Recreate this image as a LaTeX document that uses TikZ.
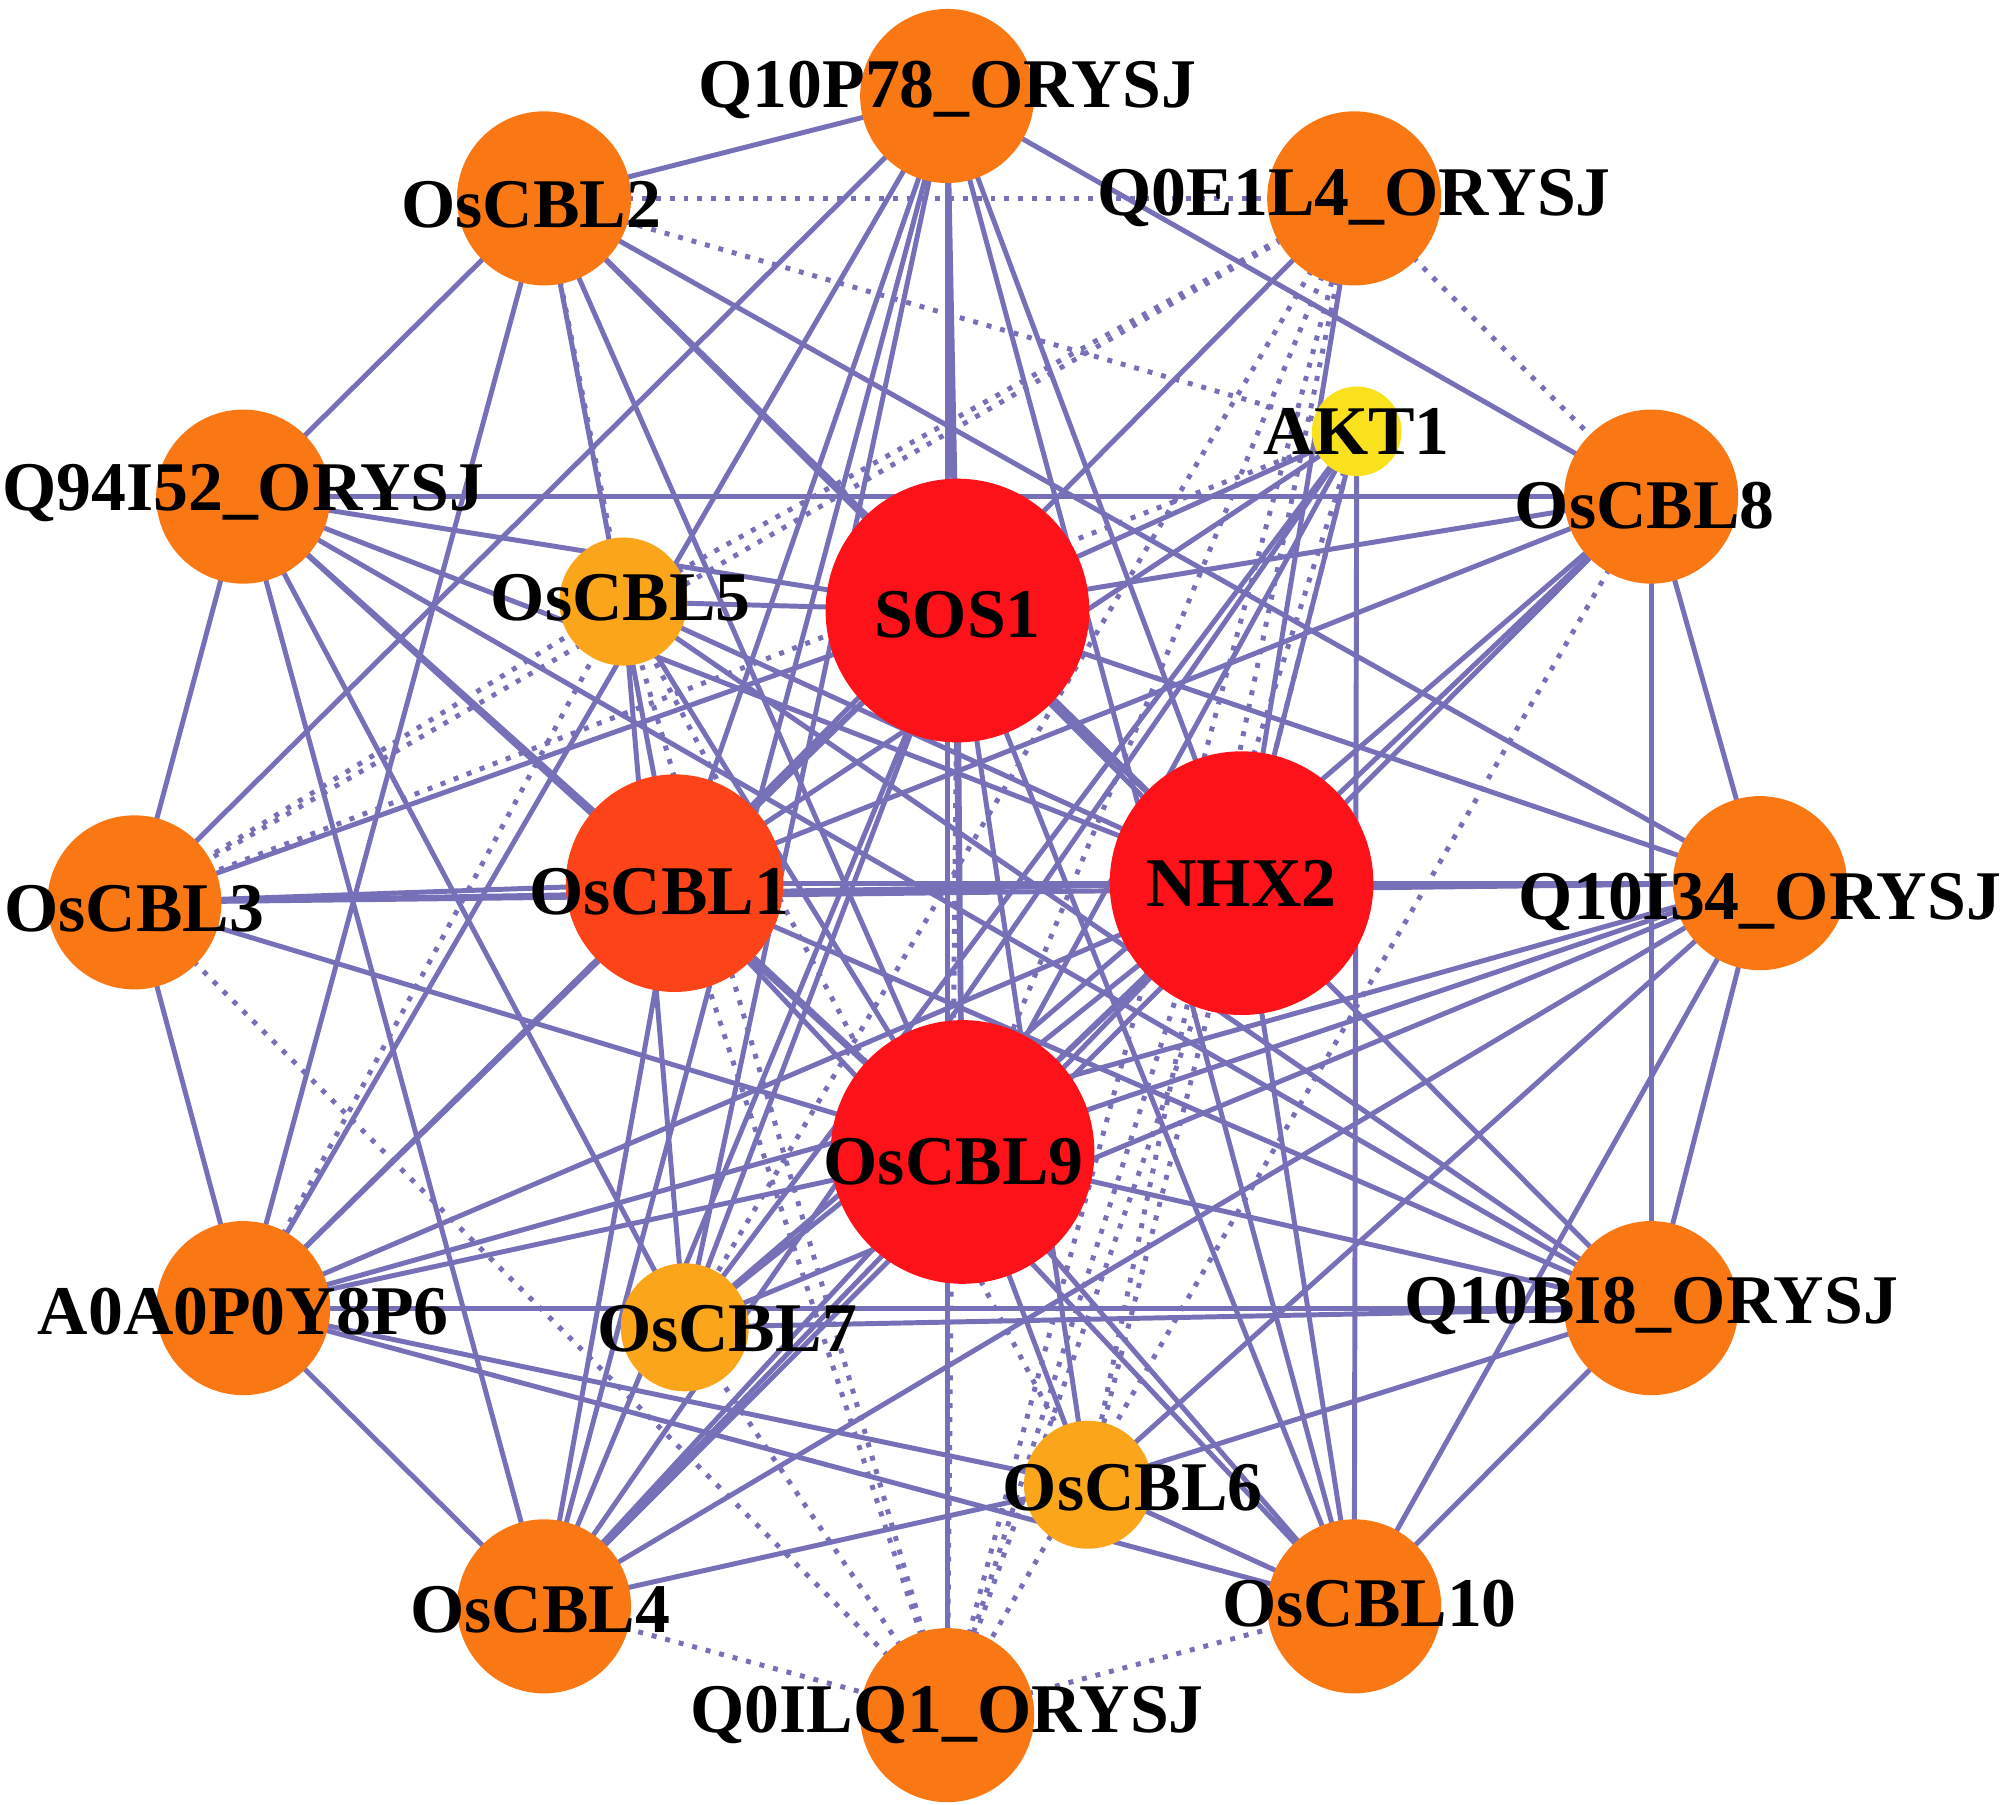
\documentclass[tikz,border=0pt]{standalone}
\usepackage{fontspec}
\setmainfont{Liberation Serif}
\definecolor{edgec}{RGB}{117,112,184}
\definecolor{hubred}{RGB}{252,18,24}
\definecolor{cblone}{RGB}{252,68,24}
\definecolor{ringor}{RGB}{250,120,20}
\definecolor{lightor}{RGB}{250,165,26}
\definecolor{akty}{RGB}{250,225,30}
\tikzset{
  prot/.style={circle, inner sep=0pt, minimum size=#1},
  lab/.style={font=\fontsize{15.5}{15.5}\selectfont\bfseries, inner sep=0pt},
  link/.style={draw=edgec, line width=1.1pt},
  dlink/.style={draw=edgec, line width=1.1pt, dotted},
}
\begin{document}
\begin{tikzpicture}[x=0.01cm,y=-0.01cm]
\useasboundingbox (0,0) rectangle (1568,1410);
% node positions
\foreach \n/\x/\y in {Q10P78/740/75, CBL2/425/155, Q0E1L4/1058/155, AKT1/1060/337,
  CBL8/1290/388, Q94I52/190/388, CBL5/487/470, SOS1/748/477, CBL1/527/690,
  NHX2/970/690, CBL3/105/705, Q10I34/1375/690, CBL9/752/900, A0A/190/1022,
  CBL7/535/1037, Q10BI8/1290/1022, CBL6/850/1160, CBL4/425/1255,
  CBL10/1058/1255, Q0ILQ1/740/1340}
  \coordinate (\n) at (\x,\y);
% solid edges
\foreach \a/\b in {Q10P78/CBL2, CBL2/Q94I52, Q94I52/CBL3, CBL3/A0A, A0A/CBL4,
  CBL10/Q10BI8, Q10BI8/Q10I34, Q10I34/CBL8, Q10P78/CBL8, CBL8/Q10BI8,
  Q10P78/CBL3, Q10P78/A0A, Q10P78/CBL4, Q10P78/CBL7, Q10P78/CBL1, Q10P78/CBL9,
  Q10P78/SOS1, Q10P78/NHX2, Q10P78/CBL10, Q10P78/Q0ILQ1,
  CBL2/SOS1, CBL2/NHX2, CBL2/CBL9, CBL2/Q10I34, CBL2/CBL1, CBL2/A0A,
  Q94I52/SOS1, Q94I52/CBL8, Q94I52/CBL1, Q94I52/CBL9, Q94I52/CBL7, Q94I52/NHX2,
  Q94I52/CBL4, Q94I52/Q10BI8,
  CBL3/CBL1, CBL3/NHX2, CBL3/Q10I34, CBL3/CBL9, CBL3/SOS1,
  A0A/CBL1, A0A/SOS1, A0A/CBL9, A0A/NHX2, A0A/Q10BI8, A0A/CBL6, A0A/CBL10, A0A/Q10I34,
  CBL4/CBL1, CBL4/SOS1, CBL4/CBL9, CBL4/NHX2, CBL4/Q10I34, CBL4/CBL6, CBL4/AKT1, CBL4/CBL8,
  CBL5/SOS1, CBL5/CBL9, CBL5/Q10BI8, CBL5/NHX2, CBL5/CBL7,
  CBL7/SOS1, CBL7/NHX2, CBL7/Q10BI8, CBL7/AKT1, CBL7/CBL8, CBL7/Q10I34,
  CBL6/CBL9, CBL6/Q10I34, CBL6/Q10BI8, CBL6/CBL10, CBL6/SOS1,
  CBL10/SOS1, CBL10/NHX2, CBL10/CBL1, CBL10/AKT1, CBL10/Q10I34, CBL10/CBL9,
  Q10BI8/SOS1, Q10BI8/CBL1, Q10BI8/CBL9,
  Q10I34/NHX2, Q10I34/SOS1, Q10I34/CBL9,
  CBL8/SOS1, CBL8/CBL9, CBL8/CBL1, Q0E1L4/NHX2, Q0E1L4/CBL1,
  AKT1/SOS1, AKT1/NHX2, AKT1/CBL9, AKT1/CBL1,
  SOS1/NHX2, SOS1/CBL9, SOS1/CBL1, NHX2/CBL9, NHX2/CBL1, CBL1/CBL9}
  \draw[link] (\a) -- (\b);
% dotted edges
\foreach \a/\b in {CBL2/Q0E1L4, CBL2/CBL5, CBL2/AKT1, Q0E1L4/CBL8,
  Q0E1L4/CBL3, Q0E1L4/CBL5, Q0E1L4/CBL7, Q0E1L4/CBL9, Q0E1L4/CBL6, AKT1/CBL3,
  AKT1/Q0ILQ1, AKT1/CBL6, CBL8/Q0ILQ1, CBL3/Q0ILQ1, CBL5/CBL3, CBL5/CBL6,
  CBL4/Q0ILQ1, Q0ILQ1/CBL10, Q0ILQ1/SOS1, Q0ILQ1/CBL1, Q0ILQ1/NHX2, Q0ILQ1/CBL5,
  Q0ILQ1/CBL7, Q0ILQ1/Q0E1L4, A0A/CBL5}
  \draw[dlink] (\a) -- (\b);
% nodes
\foreach \n/\s/\c in {Q10P78/136/ringor, CBL2/136/ringor, Q0E1L4/136/ringor,
  AKT1/70/akty, CBL8/136/ringor, Q94I52/136/ringor, CBL5/100/lightor,
  SOS1/206/hubred, CBL1/170/cblone, NHX2/206/hubred, CBL3/136/ringor,
  Q10I34/136/ringor, CBL9/206/hubred, A0A/136/ringor, CBL7/100/lightor,
  Q10BI8/136/ringor, CBL6/100/lightor, CBL4/136/ringor, CBL10/136/ringor,
  Q0ILQ1/136/ringor}
  \node[prot=\s*0.01cm, fill=\c] (n-\n) at (\n) {};
% labels
\foreach \n/\x/\y/\t in {Q10P78/740/70/Q10P78\_ORYSJ, CBL2/415/160/OsCBL2,
  Q0E1L4/1058/155/Q0E1L4\_ORYSJ, AKT1/1060/337/AKT1, CBL8/1285/395/OsCBL8,
  Q94I52/190/385/Q94I52\_ORYSJ, CBL5/485/467/OsCBL5, SOS1/748/480/SOS1,
  CBL1/515/697/OsCBL1, NHX2/970/690/NHX2, CBL3/105/710/OsCBL3,
  Q10I34/1375/705/Q10I34\_ORYSJ, CBL9/745/908/OsCBL9, A0A/190/1025/A0A0P0Y8P6,
  CBL7/568/1038/OsCBL7, Q10BI8/1290/1020/Q10BI8\_ORYSJ, CBL6/885/1162/OsCBL6,
  CBL4/422/1258/OsCBL4, CBL10/1070/1253/OsCBL10, Q0ILQ1/740/1340/Q0ILQ1\_ORYSJ}
  \node[lab] (l-\n) at (\x,\y) {\t};
\end{tikzpicture}
\end{document}
